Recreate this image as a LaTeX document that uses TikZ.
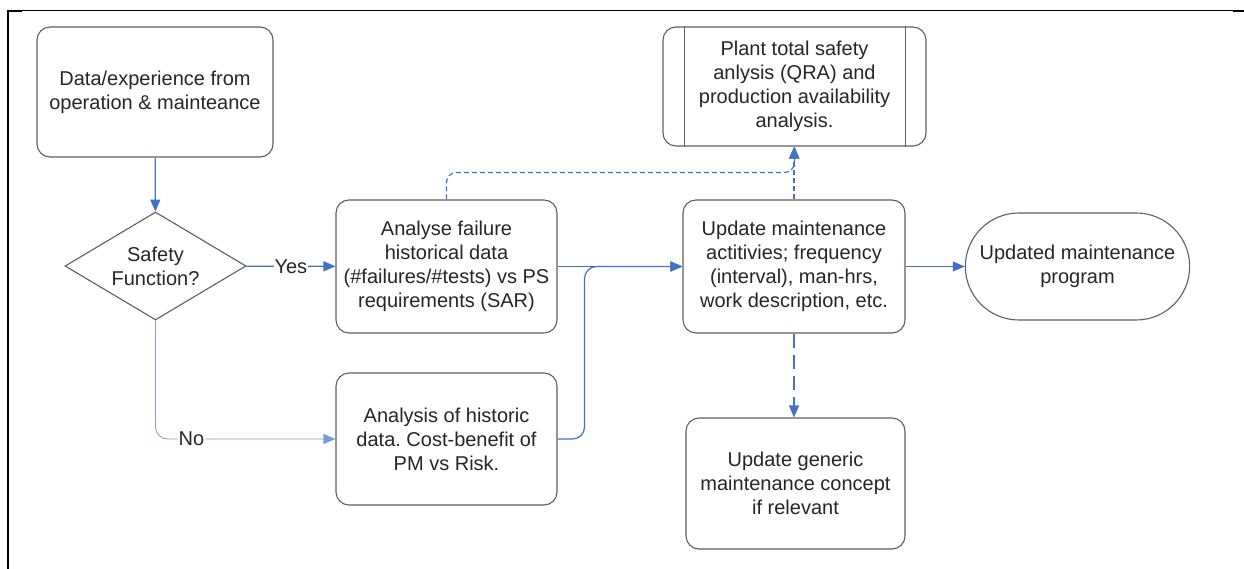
\documentclass[tikz,border=0pt]{standalone}
\usepackage{xcolor}
\usepackage{fontspec}
\setmainfont{Liberation Sans}
\usepackage{tikz}
\usetikzlibrary{arrows.meta,shapes.geometric,shapes.misc}
\frenchspacing

\definecolor{flowblue}{HTML}{4472C4}
\definecolor{boxgray}{HTML}{5F5F5F}
\definecolor{txtgray}{HTML}{262626}

\begin{document}
\begin{tikzpicture}[x=1pt,y=-1pt,
			every node/.style={align=center,text=txtgray,font=\fontsize{20}{24}\selectfont},
			block/.style={rectangle,draw=boxgray,line width=1.1pt,rounded corners=13pt,fill=white,inner sep=2pt},
			decision/.style={diamond,draw=boxgray,line width=1.1pt,inner sep=0pt,aspect=1.68,
				minimum width=181pt,minimum height=108pt},
			terminal/.style={rounded rectangle,draw=boxgray,line width=1.1pt,minimum width=231pt,minimum height=107pt},
			flow/.style={draw=flowblue,line width=1.2pt,-{Triangle[length=12pt,width=10pt]}},
			weak/.style={flow,dash pattern=on 5pt off 3pt}]
		\useasboundingbox (0,0) rectangle (1244,569);
		% frame
		\draw[line width=1pt] (8,11) -- (1244,11);
		\draw[line width=2pt] (8,10) -- (8,569);
		\draw[line width=2pt] (8,11) -- (22,11) (1233,11) -- (1244,11);

		\node[block,minimum width=236pt,minimum height=130pt] (data) at (155,92)
			{Data/experience from\\operation \& mainteance};
		\node[decision] (safety) at (155.5,266) {Safety\\Function?};
		\node[block,minimum width=221pt,minimum height=133pt] (analyse) at (446.5,266.5)
			{Analyse failure\\historical data\\(\#failures/\#tests) vs PS\\requirements (SAR)};
		\node[block,minimum width=221pt,minimum height=132pt] (analysis) at (446.5,439)
			{Analysis of historic\\data. Cost-benefit of\\PM vs Risk.};
		\node[block,minimum width=263pt,minimum height=119pt] (plant) at (794.5,86.5)
			{Plant total safety\\anlysis (QRA) and\\production availability\\analysis.};
		\draw[boxgray,line width=1.1pt] ([xshift=22pt]plant.north west) -- ([xshift=22pt]plant.south west)
			([xshift=-21pt]plant.north east) -- ([xshift=-21pt]plant.south east);
		\node[block,minimum width=222pt,minimum height=133pt] (update) at (794,266.5)
			{Update maintenance\\actitivies; frequency\\(interval), man-hrs,\\work description, etc.};
		\node[terminal] (program) at (1077.5,266.5) {Updated maintenance\\program};
		\node[block,minimum width=219pt,minimum height=131pt] (generic) at (795.5,483.5)
			{Update generic\\maintenance concept\\if relevant};

		\draw[flow] (data) -- (safety);
		\draw[flow] (safety) -- node[fill=white,inner sep=1pt]{Yes} (analyse);
		\draw[flow,draw=flowblue!70,line width=0.8pt,rounded corners=12pt] (safety.south) |-
			node[pos=0.6,fill=white,inner sep=1pt]{No} (analysis.west);
		\draw[flow] (analyse) -- (update);
		\draw[flow,rounded corners=12pt] (analysis.east) -- ++(27,0) |- (update.west);
		\draw[weak,rounded corners=10pt] (analyse.north) -- ++(0,-27) -| (plant.south);
		\draw[weak] (update.north) -- (update.north |- plant.south);
		\draw[flow] (update) -- (program);
		\draw[flow,dash pattern=on 14pt off 7pt] (update.south) -- (update.south |- generic.north);
\end{tikzpicture}
\end{document}
